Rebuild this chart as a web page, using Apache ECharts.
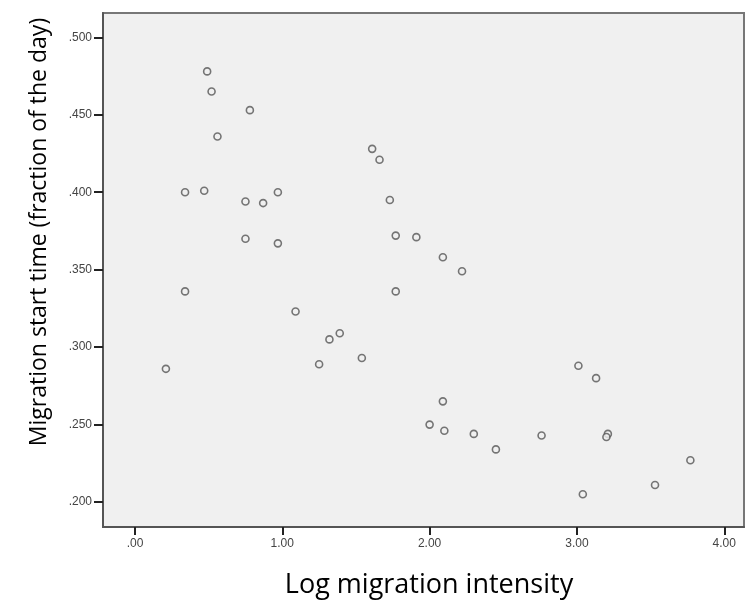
<!DOCTYPE html>
<html lang="en">

<head>
    <meta charset="UTF-8" />
    <title>Migration start time</title>
    <script src="https://cdn.jsdelivr.net/npm/echarts@6/dist/echarts.min.js"></script>
    <style>
        body { margin: 0; background: #fff; }
    </style>
</head>

<body>
    <div id="main" style="width: 746px; height: 601px;"></div>

    <script>
        // log migration intensity (x) and start time as fraction of the day (y)
        const intensity = [
            0.49, 0.52, 0.78, 0.56, 1.61, 1.66, 0.34, 0.47, 0.75, 0.87,
            0.97, 1.73, 0.75, 0.97, 1.77, 1.91, 2.09, 2.22, 0.34, 1.77,
            1.09, 1.32, 1.39, 1.25, 1.54, 0.21, 3.01, 3.13, 2.09, 2.00,
            2.10, 2.30, 2.45, 2.76, 3.21, 3.20, 3.77, 3.53, 3.04
        ];
        const startTime = [
            .478, .465, .453, .436, .428, .421, .400, .401, .394, .393,
            .400, .395, .370, .367, .372, .371, .358, .349, .336, .336,
            .323, .305, .309, .289, .293, .286, .288, .280, .265, .250,
            .246, .244, .234, .243, .244, .242, .227, .211, .205
        ];
        const xTicks = [0, 1, 2, 3, 4];
        const yTicks = [.200, .250, .300, .350, .400, .450, .500];

        const points = intensity.map((v, i) => [v, startTime[i]]);
        const dropZero = s => s.replace(/^0/, '');

        const chart = echarts.init(document.getElementById('main'));
        chart.setOption({
            animation: false,
            grid: {
                left: 103, top: 13, right: 2, bottom: 74,
                outerBoundsMode: 'none',
                show: true,
                backgroundColor: '#f0f0f0',
                borderColor: '#777',
                borderWidth: 2
            },
            xAxis: {
                type: 'value',
                min: -0.217,
                max: 4.134,
                name: 'Log migration intensity',
                nameLocation: 'middle',
                nameGap: 45,
                nameTextStyle: { fontFamily: 'Open Sans', fontSize: 27, color: '#000', padding: [0, 0, 0, 11] },
                axisLine: { show: true, onZero: false, lineStyle: { color: '#555', width: 2 } },
                axisTick: { show: true, customValues: xTicks, length: 8, lineStyle: { color: '#222', width: 2 } },
                axisLabel: {
                    customValues: xTicks,
                    formatter: v => dropZero(v.toFixed(2)),
                    fontFamily: 'Liberation Sans', fontSize: 12, color: '#444', margin: 11
                },
                splitLine: { show: false }
            },
            yAxis: {
                type: 'value',
                min: 0.1839,
                max: 0.5157,
                name: 'Migration start time (fraction of the day)',
                nameLocation: 'middle',
                nameGap: 52,
                nameTextStyle: { fontFamily: 'Open Sans', fontSize: 23, color: '#000', padding: [0, 0, 0, 76] },
                axisLine: { show: true, onZero: false, lineStyle: { color: '#555', width: 2 } },
                axisTick: { show: true, customValues: yTicks, length: 9, lineStyle: { color: '#222', width: 2 } },
                axisLabel: {
                    customValues: yTicks,
                    formatter: v => dropZero(v.toFixed(3)),
                    fontFamily: 'Liberation Sans', fontSize: 12, color: '#444', margin: 11
                },
                splitLine: { show: false }
            },
            series: [{
                type: 'scatter',
                data: points,
                symbol: 'circle',
                symbolSize: 7,
                itemStyle: { color: '#f0f0f0', borderColor: '#555', borderWidth: 1.6 }
            }]
        });
    </script>
</body>

</html>
